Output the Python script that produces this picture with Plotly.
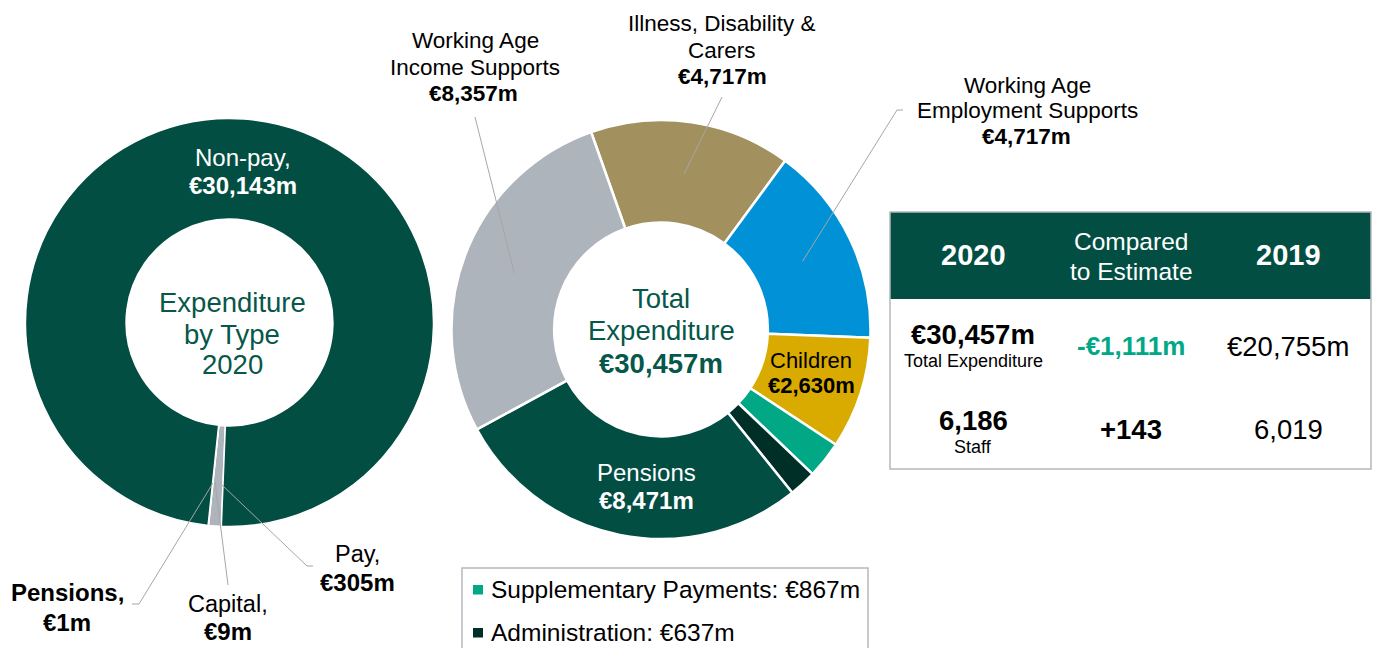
import math
import plotly.graph_objects as go

W, H = 1373, 648
FONT = "Liberation Sans, Arial, sans-serif"

# ---------------- data ----------------
type_labels = ["Pay", "Capital", "Pensions", "Non-pay"]
type_values = [305, 9, 1, 30143]
type_colors = ["#AEB4BB", "#AEB4BB", "#AEB4BB", "#024E43"]

prog_labels = ["Illness, Disability & Carers", "Working Age Employment Supports", "Children",
               "Supplementary Payments", "Administration", "Pensions", "Working Age Income Supports"]
prog_values = [4717, 4717, 2630, 867, 637, 8471, 8357]
prog_colors = ["#A2915E", "#0091D6", "#D9AA00", "#00A886", "#002F28", "#024E43", "#AEB4BB"]

table_header = ["2020", "Compared<br>to Estimate", "2019"]
table_row1 = ["€30,457m", "Total Expenditure", "-€1,111m", "€20,755m"]
table_row2 = ["6,186", "Staff", "+143", "6,019"]

legend_items = ["Supplementary Payments: €867m", "Administration: €637m"]

# ---------------- geometry (pixels) ----------------
L_CX, L_CY, L_R, L_HOLE, L_ROT = 229.5, 322.5, 204, 0.507, 182.3
M_CX, M_CY, M_R, M_HOLE, M_ROT = 661, 329.5, 209.5, 0.51, -19.5

def px(x):
    return x / W

def py(y):
    return 1 - y / H

fig = go.Figure()
fig.add_trace(go.Pie(
    labels=type_labels, values=type_values, sort=False, direction="clockwise",
    rotation=L_ROT, hole=L_HOLE, textinfo="none", hoverinfo="label+value",
    marker=dict(colors=type_colors, line=dict(color="white", width=1.5)),
    domain=dict(x=[px(L_CX - L_R), px(L_CX + L_R)], y=[py(L_CY + L_R), py(L_CY - L_R)]),
))
fig.add_trace(go.Pie(
    labels=prog_labels, values=prog_values, sort=False, direction="clockwise",
    rotation=M_ROT, hole=M_HOLE, textinfo="none", hoverinfo="label+value",
    marker=dict(colors=prog_colors, line=dict(color="white", width=2.5)),
    domain=dict(x=[px(M_CX - M_R), px(M_CX + M_R)], y=[py(M_CY + M_R), py(M_CY - M_R)]),
))

annotations = []
shapes = []

def ann(x, y, text, size, color="#000000", bold=False, xanchor="center"):
    annotations.append(dict(
        x=px(x), y=py(y), xref="paper", yref="paper", showarrow=False,
        text=f"<b>{text}</b>" if bold else text, xanchor=xanchor, yanchor="middle",
        font=dict(size=size, color=color, family=FONT)))

def line(pts, color="#A6A6A6", width=1):
    path = "M " + " L ".join(f"{px(x)},{py(y)}" for x, y in pts)
    shapes.append(dict(type="path", path=path, xref="paper", yref="paper",
                       line=dict(color=color, width=width)))

def rect(x0, y0, x1, y1, fill=None, lc=None, lw=0):
    shapes.append(dict(type="rect", xref="paper", yref="paper",
                       x0=px(x0), x1=px(x1), y0=py(y1), y1=py(y0),
                       fillcolor=fill if fill else "rgba(0,0,0,0)",
                       line=dict(color=lc if lc else "rgba(0,0,0,0)", width=lw), layer="above"))

def mid_point(values, idx, rot, cx, cy, r):
    tot = sum(values)
    start = rot + 360 * sum(values[:idx]) / tot
    ang = math.radians(start + 180 * values[idx] / tot)
    return cx + r * math.sin(ang), cy - r * math.cos(ang)

DG = "#07574A"
# ---------- left donut texts ----------
ann(243, 158, "Non-pay,", 24, "white")
ann(243, 186, "€30,143m", 24, "white", bold=True)
ann(232, 302, "Expenditure", 27.5, DG)
ann(232, 334, "by Type", 27.5, DG)
ann(232, 365, "2020", 27.5, DG)

ann(67, 592, "Pensions,", 24, bold=True)
ann(67, 622, "€1m", 24, bold=True)
line([(132, 604), (139, 604), (213, 483)])
ann(228, 604, "Capital,", 23.5)
ann(228, 631, "€9m", 24, bold=True)
line([(228, 585), (215, 482)])
ann(357, 554, "Pay,", 23.5)
ann(357, 582, "€305m", 24, bold=True)
line([(313, 566), (307, 566), (222, 485)])

# ---------- middle donut texts ----------
ann(661, 298, "Total", 27.5, DG)
ann(661, 330, "Expenditure", 27.5, DG)
ann(661, 363, "€30,457m", 27.5, DG, bold=True)
ann(811, 360, "Children", 22)
ann(811, 385, "€2,630m", 22, bold=True)
ann(646, 472, "Pensions", 24, "white")
ann(646, 500, "€8,471m", 24, "white", bold=True)

ann(475, 41, "Working Age", 22.5)
ann(475, 67, "Income Supports", 22.5)
ann(473, 94, "€8,357m", 22.5, bold=True)
ex, ey = mid_point(prog_values, 6, M_ROT, M_CX, M_CY, 0.75 * M_R)
line([(475, 117), (ex, ey)])

ann(722, 24, "Illness, Disability &", 22.5)
ann(722, 50, "Carers", 22.5)
ann(722, 77, "€4,717m", 22.5, bold=True)
ex, ey = mid_point(prog_values, 0, M_ROT, M_CX, M_CY, 0.75 * M_R)
line([(722, 97), (ex, ey)])

ann(1027, 85, "Working Age", 22.5)
ann(1027, 111, "Employment Supports", 22.5)
ann(1026, 137, "€4,717m", 22.5, bold=True)
ex, ey = mid_point(prog_values, 1, M_ROT, M_CX, M_CY, 0.75 * M_R)
line([(903, 110), (897, 110), (ex, ey)])

# ---------- table ----------
rect(890, 212, 1371, 299, fill="#024E43")
rect(890, 212, 1371, 469, lc="#B4B8BE", lw=1.5)
cols = [973, 1131, 1288]
ann(cols[0], 255, table_header[0], 29, "white", bold=True)
ann(cols[1], 241, "Compared", 24.5, "white")
ann(cols[1], 271, "to Estimate", 24.5, "white")
ann(cols[2], 255, table_header[2], 29, "white", bold=True)

ann(cols[0], 334, table_row1[0], 27.5, bold=True)
ann(cols[0], 361, table_row1[1], 18)
ann(cols[1], 346, table_row1[2], 26, "#00A886", bold=True)
ann(cols[2], 346, table_row1[3], 27.5)

ann(cols[0], 420, table_row2[0], 27.5, bold=True)
ann(cols[0], 447, table_row2[1], 18)
ann(cols[1], 430, table_row2[2], 27.5, bold=True)
ann(cols[2], 430, table_row2[3], 27.5)

# ---------- legend box ----------
rect(462, 568, 868, 700, lc="#B4B8BE", lw=1.5)
rect(473, 585, 483, 594.5, fill=prog_colors[3])
rect(473, 628, 483, 637.5, fill=prog_colors[4])
ann(489, 589, legend_items[0], 24.5, xanchor="left")
ann(489, 632, legend_items[1], 24.5, xanchor="left")

fig.update_layout(
    width=W, height=H, margin=dict(l=0, r=0, t=0, b=0),
    paper_bgcolor="white", plot_bgcolor="white", showlegend=False,
    annotations=annotations, shapes=shapes,
    font=dict(family=FONT),
)
fig.write_html("out.html", config={"displayModeBar": False},
               post_script="document.body.style.margin='0';document.body.style.overflow='hidden';")
